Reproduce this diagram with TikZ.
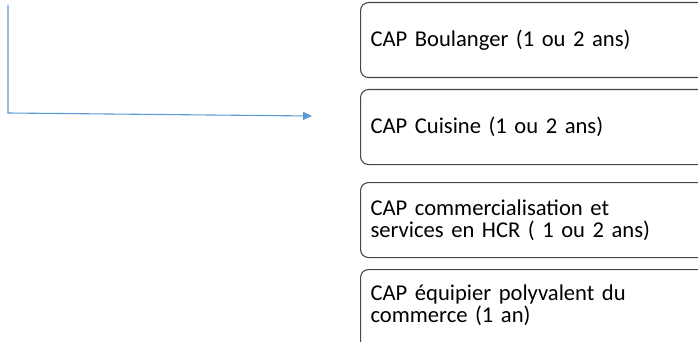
\documentclass[tikz,border=0pt]{standalone}
\usepackage{fontspec}
\setmainfont{Carlito}
\usetikzlibrary{arrows.meta,positioning}
\definecolor{capblue}{RGB}{91,155,213}
\definecolor{capgray}{RGB}{70,70,70}
\tikzset{
  capbox/.style={draw=capgray,line width=1.1pt,rounded corners=8pt,anchor=north west,
    minimum width=360pt,minimum height=75pt,inner xsep=10pt,text width=340pt,align=left,
    font=\fontsize{22.6}{22.5}\selectfont},
  capline/.style={draw=capblue,line width=1.1pt}
}
\begin{document}
\begin{tikzpicture}[x=1pt,y=-1pt]
\useasboundingbox (0,0) rectangle (698,342);
\clip (0,0) rectangle (698,342);
\node[capbox] (boulanger) at (360,2) {CAP Boulanger (1 ou 2 ans)};
\node[capbox] (cuisine) at (360,89) {CAP Cuisine (1 ou 2 ans)};
\node[capbox] (hcr) at (360,182) {CAP commercialisation et\\services en HCR ( 1 ou 2 ans)};
% text sits high in the last box
\node[capbox,minimum height=80pt] (commerce) at (360,269) {CAP \'equipier polyvalent du\\commerce (1 an)\\[-10.5pt]\mbox{}};
\coordinate (top) at (8,5);
\coordinate (corner) at (8,113);
\coordinate (tip) at (312,116);
\draw[capline,-{Triangle[length=9pt,width=8pt]}] (top) -- (corner) -- (tip);
\end{tikzpicture}
\end{document}
